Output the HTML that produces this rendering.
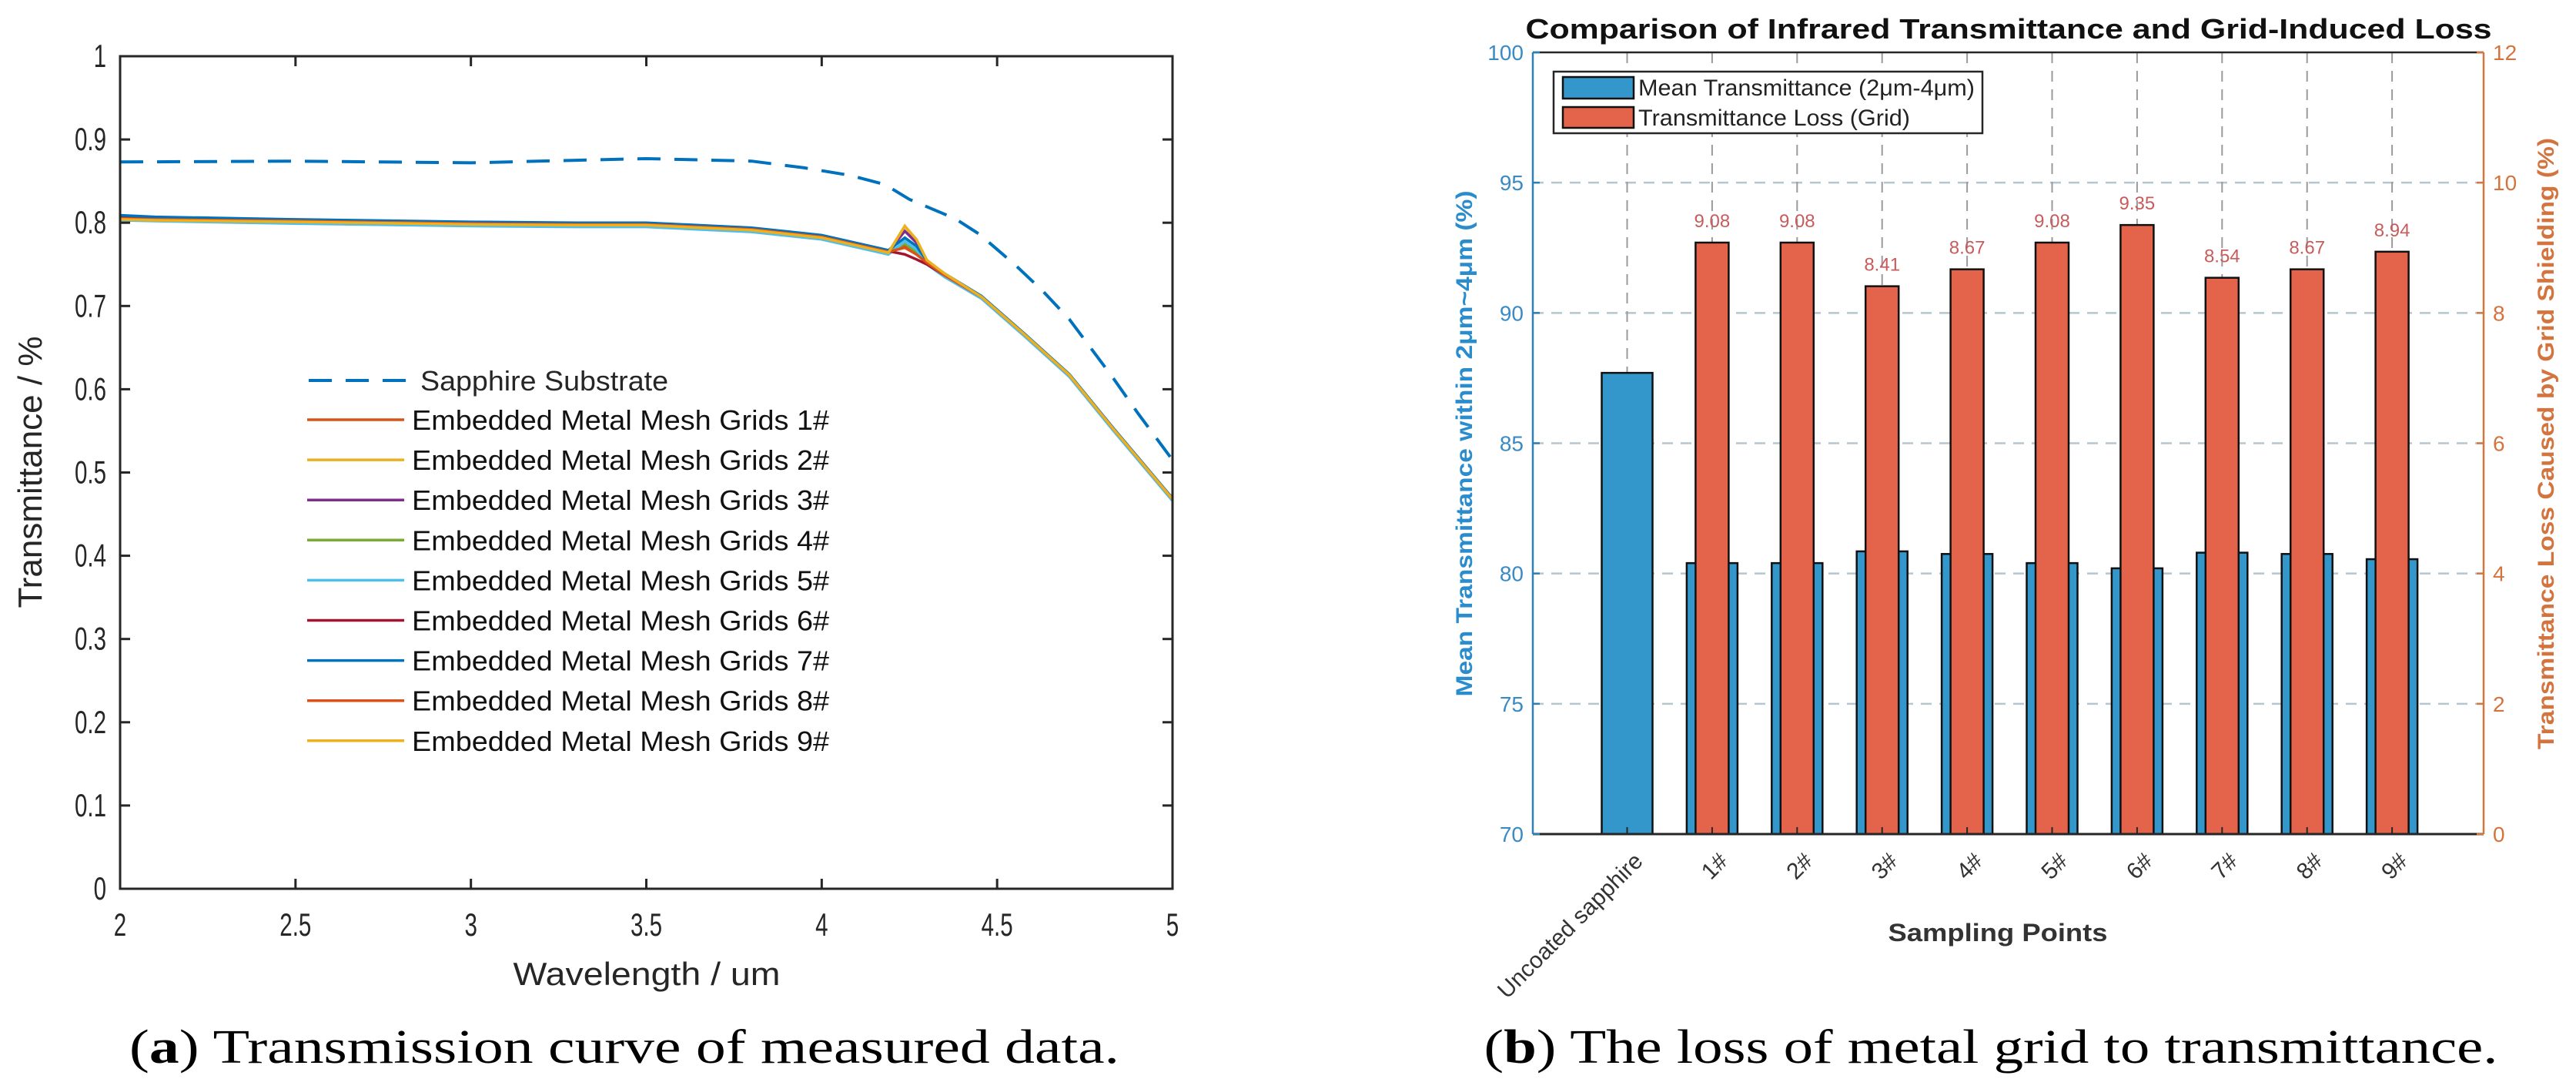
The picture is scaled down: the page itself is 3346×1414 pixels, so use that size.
<!DOCTYPE html>
<html><head><meta charset="utf-8"><style>
html,body{margin:0;padding:0;background:#fff;}
svg{display:block;}
</style></head><body>
<svg id="fig" width="3346" height="1414" viewBox="0 0 3346 1414" xmlns="http://www.w3.org/2000/svg" font-family="Liberation Sans, Arial, sans-serif">
<g id="left"></g>
<g id="right"></g>
<text x="811" y="1380" style="font-family:'Liberation Serif',serif" font-size="62" text-anchor="middle" textLength="1286" lengthAdjust="spacingAndGlyphs">(<tspan font-weight="bold">a</tspan>) Transmission curve of measured data.</text>
<text x="2586" y="1380" style="font-family:'Liberation Serif',serif" font-size="62" text-anchor="middle" textLength="1317" lengthAdjust="spacingAndGlyphs">(<tspan font-weight="bold">b</tspan>) The loss of metal grid to transmittance.</text>
</svg>
<script>
// ---------- Left chart data ----------
const wavelengths = [2.0,2.1,2.5,3.0,3.3,3.5,3.8,4.0,4.19,4.237,4.27,4.3,4.35,4.455,4.58,4.706,4.83,5.0];
const grid1 = [0.806,0.805,0.802,0.799,0.798,0.798,0.792,0.783,0.765,0.772,0.762,0.752,0.737,0.711,0.665,0.617,0.553,0.468];
const grid2 = [0.804,0.803,0.801,0.798,0.797,0.797,0.791,0.782,0.764,0.796,0.778,0.754,0.738,0.711,0.665,0.617,0.553,0.468];
const grid3 = [0.805,0.804,0.801,0.798,0.798,0.797,0.791,0.782,0.765,0.790,0.776,0.753,0.738,0.711,0.665,0.617,0.553,0.468];
const grid4 = [0.806,0.805,0.802,0.799,0.798,0.798,0.792,0.783,0.765,0.775,0.765,0.752,0.737,0.711,0.665,0.617,0.553,0.468];
const grid5 = [0.803,0.802,0.799,0.796,0.795,0.795,0.789,0.780,0.762,0.778,0.768,0.750,0.735,0.709,0.663,0.615,0.551,0.466];
const grid6 = [0.807,0.806,0.803,0.800,0.799,0.799,0.793,0.784,0.766,0.762,0.756,0.750,0.737,0.711,0.665,0.617,0.553,0.468];
const grid7 = [0.809,0.807,0.804,0.801,0.800,0.800,0.794,0.785,0.767,0.782,0.772,0.754,0.739,0.712,0.666,0.618,0.554,0.469];
const grid8 = [0.805,0.804,0.802,0.799,0.798,0.798,0.792,0.783,0.765,0.770,0.762,0.752,0.737,0.711,0.665,0.617,0.553,0.468];
const grid9 = [0.804,0.803,0.801,0.798,0.797,0.797,0.791,0.782,0.764,0.796,0.780,0.755,0.739,0.711,0.665,0.617,0.553,0.468];
const sapphireWl = [2.0,2.5,3.0,3.3,3.5,3.8,3.95,4.08,4.18,4.25,4.38,4.45,4.555,4.63,4.706,4.83,4.9,5.0];
const sapphireVals = [0.873,0.874,0.872,0.875,0.877,0.874,0.866,0.857,0.846,0.828,0.805,0.786,0.748,0.718,0.684,0.614,0.572,0.515];
const xTicksL = [2,2.5,3,3.5,4,4.5,5];
const yTicksL = [0,0.1,0.2,0.3,0.4,0.5,0.6,0.7,0.8,0.9,1];
const legendLabelsL = ["Embedded Metal Mesh Grids 1#","Embedded Metal Mesh Grids 2#","Embedded Metal Mesh Grids 3#","Embedded Metal Mesh Grids 4#","Embedded Metal Mesh Grids 5#","Embedded Metal Mesh Grids 6#","Embedded Metal Mesh Grids 7#","Embedded Metal Mesh Grids 8#","Embedded Metal Mesh Grids 9#"];

// ---------- Right chart data ----------
const categories = ["Uncoated sapphire","1#","2#","3#","4#","5#","6#","7#","8#","9#"];
const meanTrans = [87.7,80.4,80.4,80.85,80.75,80.4,80.2,80.8,80.75,80.55];
const lossVals = [null,9.08,9.08,8.41,8.67,9.08,9.35,8.54,8.67,8.94];
const lossLabels = ["","9.08","9.08","8.41","8.67","9.08","9.35","8.54","8.67","8.94"];
const yTicksLeftR = [70,75,80,85,90,95,100];
const yTicksRightR = [0,2,4,6,8,10,12];

const NS = "http://www.w3.org/2000/svg";
function mk(parent, tag, attrs, txt){
  const e = document.createElementNS(NS, tag);
  for (const k in attrs) e.setAttribute(k, attrs[k]);
  if (txt !== undefined) e.textContent = txt;
  parent.appendChild(e);
  return e;
}

// ===== LEFT =====
(function(){
  const g = document.getElementById('left');
  const L=156,R=1523,T=73,B=1154;
  const xs = v => L + (v-2)/3*(R-L);
  const ys = v => B - v*(B-T);
  const series = [grid1,grid2,grid3,grid4,grid5,grid6,grid7,grid8,grid9];
  const colors = ["#D95319","#EDB120","#7E2F8E","#77AC30","#4DBEEE","#A2142F","#0072BD","#D95319","#EDB120"];
  const sd = mk(g,'path',{d: sapphireWl.map((w,i)=>(i?'L':'M')+xs(w).toFixed(1)+' '+ys(sapphireVals[i]).toFixed(1)).join(' '), fill:'none', stroke:'#0072BD','stroke-width':4,'stroke-dasharray':'30 18'});
  
  
  series.forEach((s,k)=>{
    const p = mk(g,'path',{d: wavelengths.map((w,i)=>(i?'L':'M')+xs(w).toFixed(1)+' '+ys(s[i]).toFixed(1)).join(' '), fill:'none', stroke:colors[k],'stroke-width':3.5});
    
    
  });
  const fr = mk(g,'rect',{x:L,y:T,width:R-L,height:B-T,fill:'none',stroke:'#262626','stroke-width':3});
  
  
  xTicksL.forEach(v=>{
    const x=xs(v);
    mk(g,'line',{x1:x,y1:B,x2:x,y2:B-13,stroke:'#262626','stroke-width':3});
    mk(g,'line',{x1:x,y1:T,x2:x,y2:T+13,stroke:'#262626','stroke-width':3});
    const y=1215;
    const t = mk(g,'text',{x:x,y:y,'font-size':36,'text-anchor':'middle',fill:'#262626',transform:`translate(${x} ${y}) scale(0.82 1.15) translate(${-x} ${-y})`},String(v));
    
    
  });
  yTicksL.forEach(v=>{
    const y=ys(v);
    mk(g,'line',{x1:L,y1:y,x2:L+13,y2:y,stroke:'#262626','stroke-width':3});
    mk(g,'line',{x1:R,y1:y,x2:R-13,y2:y,stroke:'#262626','stroke-width':3});
    const yy=y+14;
    const t = mk(g,'text',{x:138,y:yy,'font-size':36,'text-anchor':'end',fill:'#262626',transform:`translate(138 ${yy}) scale(0.82 1.15) translate(-138 ${-yy})`},String(v));
    
    
  });
  const xl = mk(g,'text',{x:840,y:1279,'font-size':42,'text-anchor':'middle',fill:'#262626',textLength:347,lengthAdjust:'spacingAndGlyphs'},'Wavelength / um');
  
  
  const yl = mk(g,'text',{x:0,y:0,'font-size':44,'text-anchor':'middle',fill:'#262626',transform:'translate(54 613) rotate(-90)'},'Transmittance / %');
  
  
  const lg = mk(g,'g',{});
  
  
  mk(lg,'line',{x1:401,y1:494,x2:528,y2:494,stroke:'#0072BD','stroke-width':4,'stroke-dasharray':'30 18'});
  const st = mk(lg,'text',{x:546,y:507,'font-size':36,fill:'#262626',textLength:322,lengthAdjust:'spacingAndGlyphs'},'Sapphire Substrate');
  
  
  legendLabelsL.forEach((lab,k)=>{
    const y = 545 + k*52.1;
    mk(lg,'line',{x1:399,y1:y,x2:525,y2:y,stroke:colors[k],'stroke-width':3.5});
    const t = mk(lg,'text',{x:535,y:y+13,'font-size':36,fill:'#111',textLength:542,lengthAdjust:'spacingAndGlyphs'},lab);
    
    
  });
})();

// ===== RIGHT =====
(function(){
  const g = document.getElementById('right');
  const L=1991,R=3226,T=68,B=1083;
  const yl = v => B - (v-70)/30*(B-T);
  const yr = v => B - v/12*(B-T);
  const xc = i => 2113.5 + i*110.4;
  yTicksLeftR.slice(1,-1).forEach(v=>{
    mk(g,'line',{x1:L,y1:yl(v),x2:R,y2:yl(v),stroke:'#b5c6cf','stroke-width':2.5,'stroke-dasharray':'14 10'});
  });
  categories.forEach((c,i)=>{
    mk(g,'line',{x1:xc(i),y1:T,x2:xc(i),y2:B,stroke:'#9a9a9a','stroke-width':2,'stroke-dasharray':'14 10'});
  });
  categories.forEach((c,i)=>{
    const b = mk(g,'rect',{x:xc(i)-33,y:yl(meanTrans[i]),width:66,height:B-yl(meanTrans[i]),fill:'#3497cb',stroke:'#111','stroke-width':2.5});
    
    
    if (lossVals[i]!==null){
      const r = mk(g,'rect',{x:xc(i)-21.5,y:yr(lossVals[i]),width:43,height:B-yr(lossVals[i]),fill:'#e3644b',stroke:'#111','stroke-width':2.5});
      
      
      const t = mk(g,'text',{x:xc(i),y:yr(lossVals[i])-20,'font-size':24,'text-anchor':'middle',fill:'#c85c5c'},lossLabels[i]);
      
      
    }
  });
  mk(g,'line',{x1:L,y1:T,x2:R,y2:T,stroke:'#262626','stroke-width':2.5});
  mk(g,'line',{x1:L,y1:B,x2:R,y2:B,stroke:'#262626','stroke-width':3});
  mk(g,'line',{x1:L,y1:T,x2:L,y2:B,stroke:'#2f7fb5','stroke-width':2.5});
  mk(g,'line',{x1:R,y1:T,x2:R,y2:B,stroke:'#d0783f','stroke-width':2.5});
  yTicksLeftR.forEach(v=>{
    mk(g,'line',{x1:L,y1:yl(v),x2:L+9,y2:yl(v),stroke:'#2f7fb5','stroke-width':2.5});
    const t = mk(g,'text',{x:1979,y:yl(v)+10,'font-size':28,'text-anchor':'end',fill:'#3a8ac4'},String(v));
    
    
  });
  yTicksRightR.forEach(v=>{
    mk(g,'line',{x1:R,y1:yr(v),x2:R-9,y2:yr(v),stroke:'#d0783f','stroke-width':2.5});
    const t = mk(g,'text',{x:3238,y:yr(v)+10,'font-size':28,fill:'#d3743f'},String(v));
    
    
  });
  categories.forEach((c,i)=>{
    mk(g,'line',{x1:xc(i),y1:B,x2:xc(i),y2:B-9,stroke:'#262626','stroke-width':2});
    const ax = xc(i)+22, ay = 1120;
    const t = mk(g,'text',{x:ax,y:ay,'font-size':30,'text-anchor':'end',fill:'#333',transform:`rotate(-45 ${ax} ${ay})`},c);
    
    
  });
  const title = mk(g,'text',{x:2609,y:50,'font-size':36,'font-weight':'bold','text-anchor':'middle',fill:'#111',textLength:1255,lengthAdjust:'spacingAndGlyphs'},'Comparison of Infrared Transmittance and Grid-Induced Loss');
  
  
  const xt = mk(g,'text',{x:2595,y:1222,'font-size':32,'font-weight':'bold','text-anchor':'middle',fill:'#333',textLength:285,lengthAdjust:'spacingAndGlyphs'},'Sampling Points');
  
  
  const ylt = mk(g,'text',{x:0,y:0,'font-size':30,'font-weight':'bold','text-anchor':'middle',fill:'#2a8ccc',textLength:657,lengthAdjust:'spacingAndGlyphs',transform:'translate(1912 576) rotate(-90)'},'Mean Transmittance within 2μm~4μm (%)');
  
  
  const yrt = mk(g,'text',{x:0,y:0,'font-size':30,'font-weight':'bold','text-anchor':'middle',fill:'#d3743f',textLength:794,lengthAdjust:'spacingAndGlyphs',transform:'translate(3317 576) rotate(-90)'},'Transmittance Loss Caused by Grid Shielding (%)');
  
  
  const lg = mk(g,'g',{});
  
  
  mk(lg,'rect',{x:2018,y:93,width:557,height:80,fill:'#fff',stroke:'#262626','stroke-width':2.5});
  mk(lg,'rect',{x:2030,y:100,width:92,height:28,fill:'#3497cb',stroke:'#111','stroke-width':2.5});
  mk(lg,'rect',{x:2030,y:139,width:92,height:27,fill:'#e3644b',stroke:'#111','stroke-width':2.5});
  const l1 = mk(lg,'text',{x:2128,y:124,'font-size':30,fill:'#222',textLength:437,lengthAdjust:'spacingAndGlyphs'},'Mean Transmittance (2μm-4μm)');
  
  
  const l2 = mk(lg,'text',{x:2128,y:163,'font-size':30,fill:'#222',textLength:353,lengthAdjust:'spacingAndGlyphs'},'Transmittance Loss (Grid)');
  
  
})();
</script>
</body></html>
